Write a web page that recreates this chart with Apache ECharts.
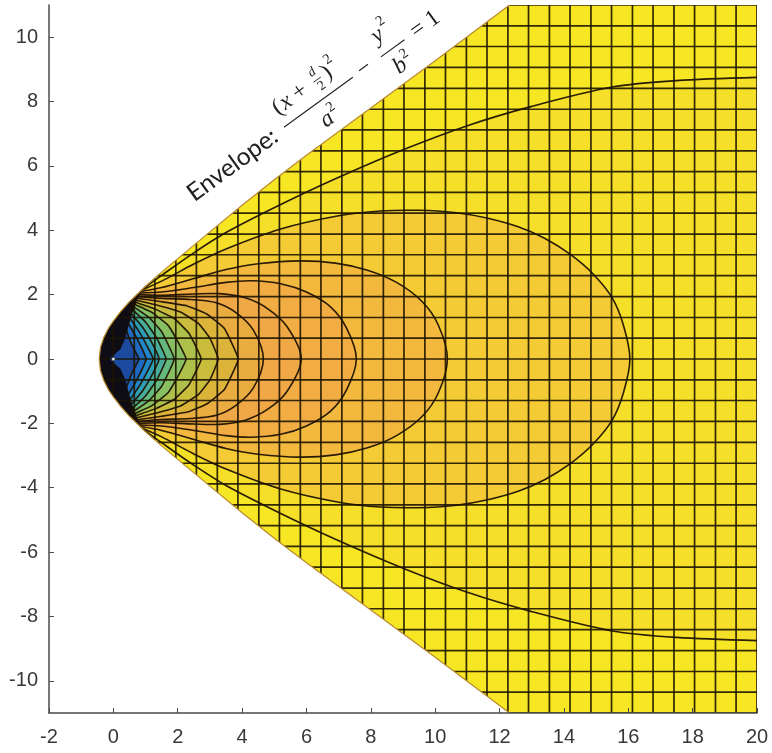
<!DOCTYPE html>
<html><head><meta charset="utf-8">
<script src="https://cdn.jsdelivr.net/npm/echarts@6/dist/echarts.min.js"></script>
<style>html,body{margin:0;padding:0;background:#fff}#c{width:772px;height:753px}</style>
</head><body><div id="c"></div>
<script>
// ---------------- data ----------------
const xTickValues = [-2,0,2,4,6,8,10,12,14,16,18,20];
const yTickValues = [-10,-8,-6,-4,-2,0,2,4,6,8,10];

// upper half of the hyperbolic envelope (mirrored for the lower half)
const envelopeX = [-0.44,-0.4,-0.3,-0.15,0,0.25,0.5,1,1.5,2,3,4,5,6,8,10,12.31];
const envelopeY = [0,0.36,0.66,0.96,1.18,1.5,1.78,2.26,2.7,3.12,3.95,4.78,5.57,6.33,7.8,9.27,11];

// mesh lines of the surface
const meshX = [0,0.65,1.29,1.94,2.58,3.23,3.87,4.52,5.16,5.81,6.45,7.1,7.74,8.39,9.03,9.68,10.32,10.97,11.61,12.26,12.9,13.55,14.19,14.84,15.48,16.13,16.77,17.42,18.06,18.71,19.35,20];
const meshY = [-11,-10.35,-9.71,-9.06,-8.41,-7.76,-7.12,-6.47,-5.82,-5.18,-4.53,-3.88,-3.24,-2.59,-1.94,-1.29,-0.65,0,0.65,1.29,1.94,2.59,3.24,3.88,4.53,5.18,5.82,6.47,7.12,7.76,8.41,9.06,9.71,10.35,11];

// contour lines (upper halves, left end -> crossing of y = 0); mirrored below
const contourA = [[0.95,2.2],[1.5,2.6],[2.5,3.3],[3.5,3.93],[5.2,4.8],[6.9,5.6],[9,6.5],[11,7.25],[13,7.85],[15.5,8.45],[17.5,8.65],[20,8.75]];
const contourB = [[0.9,2.15],[1.5,2.42],[2.5,2.95],[3.5,3.42],[5.2,4.04],[7,4.45],[8.3,4.6],[9.5,4.62],[10.6,4.55],[11.6,4.38],[12.6,4.1],[13.4,3.75],[14.2,3.25],[14.9,2.65],[15.5,1.9],[15.85,1.05],[16.05,0]];
const contourC = [[0.85,2.1],[1.5,2.22],[2.5,2.5],[3.5,2.78],[4.5,2.96],[5.8,3.05],[6.9,2.98],[7.9,2.76],[8.8,2.38],[9.6,1.78],[10.1,1.05],[10.38,0]];
const contourD = [[0.8,2.05],[1.5,2.08],[2.5,2.22],[3.5,2.38],[4.3,2.43],[5.2,2.34],[6,2.08],[6.75,1.62],[7.25,0.95],[7.55,0]];
const contourE = [[0.75,2.0],[1.5,1.98],[2.5,2.02],[3.3,2.03],[4.1,1.9],[4.8,1.56],[5.4,1.0],[5.84,0]];
const contourF = [[0.7,1.95],[1.5,1.88],[2.4,1.85],[3.2,1.75],[3.8,1.45],[4.35,0.9],[4.66,0]];
const contourG = [[0.66,1.9],[1.5,1.78],[2.3,1.65],[2.9,1.4],[3.45,0.95],[3.88,0]];
const contourH = [[0.62,1.85],[1.4,1.66],[2.1,1.45],[2.65,1.1],[3.0,0.65],[3.26,0]];
const contourI = [[0.58,1.8],[1.3,1.55],[1.9,1.25],[2.35,0.8],[2.73,0]];
const contourJ = [[0.55,1.75],[1.2,1.45],[1.7,1.05],[2.0,0.55],[2.26,0]];
const contourK = [[0.52,1.7],[1.1,1.3],[1.5,0.85],[1.89,0]];
const contourL = [[0.5,1.62],[1.0,1.15],[1.35,0.65],[1.64,0]];
const contourM = [[0.48,1.5],[0.9,1.0],[1.2,0.5],[1.42,0]];
const contourN = [[0.46,1.35],[0.8,0.85],[1.05,0.4],[1.24,0]];
const contourO = [[0.44,1.15],[0.7,0.7],[0.9,0.3],[1.02,0]];
const contourP = [[0.4,0.9],[0.55,0.5],[0.7,0.2],[0.8,0]];
const contours = [contourA,contourB,contourC,contourD,contourE,contourF,contourG,contourH,contourI,contourJ,contourK,contourL,contourM,contourN,contourO,contourP];

// colour of the surface inside each contour (parula-like)
const envelopeColor = '#F7E623';
const bandColors = ['#F6DF28','#F4CB35','#F3B83E','#F2AC44','#F0A746','#E9AC41','#DDB43A','#CABC3C','#ACC04A','#87BF62','#63B87E','#45AD9A','#2E9DB6','#2286C8','#1E6AC0','#1B4A9E'];

// dark core at the vertex (inner edge, upper half)
const coreEdge = [[0.95,2.25],[0.75,1.85],[0.6,1.45],[0.48,1.05],[0.36,0.62],[0.22,0.3],[0.02,0.13],[-0.12,0]];
const coreColor = '#0E0D16';
const sourcePoint = [[0,0]];

// ---------------- helpers ----------------
const envUpper = envelopeX.map((x,i)=>[x,envelopeY[i]]);
const mirror = p => [p[0], -p[1]];
function envelopePolygon(){
  return envUpper.concat([[20,11],[20,-11]]).concat(envUpper.slice().reverse().map(mirror));
}
function bandPolygon(c){
  const x0 = c[0][0];
  const upper = envUpper.filter(p=>p[0] < x0).concat(c);
  const lower = upper.slice().reverse().map(mirror);
  const closedOnAxis = c[c.length-1][1] === 0;
  return upper.concat(closedOnAxis ? lower.slice(1) : lower);
}
function maskPolygon(){
  const top = [[-3,12],[12.31,12]].concat(envUpper.slice().reverse());
  const bottom = envUpper.slice(1).map(mirror).concat([[12.31,-12],[-3,-12]]);
  return top.concat(bottom);
}
const fills = [{pts: envelopePolygon(), color: envelopeColor}]
  .concat(contours.map((c,i)=>({pts: bandPolygon(c), color: bandColors[i]})))
  .concat([{pts: bandPolygon(coreEdge), color: coreColor}]);

const chart = echarts.init(document.getElementById('c'));
const axisColor = '#4a4a4a';
const ink = '#222';
const T = (x, y, text, font) => ({type:'text', z:100, x:x, y:y, style:{text:text, font:font, fill:ink, textAlign:'left', align:'left', textVerticalAlign:'middle', verticalAlign:'middle'}});
const L = (x1, x2, y, w) => ({type:'line', z:100, shape:{x1:x1,y1:y,x2:x2,y2:y}, style:{stroke:ink, lineWidth:w}});
const serif = '"Liberation Serif"';
chart.setOption({
  animation: false,
  backgroundColor: '#ffffff',
  grid: {left: 49, right: 15, top: 5, bottom: 40, containLabel: false},
  xAxis: {
    type: 'value', min: -2, max: 20, interval: 2, z: 10,
    axisLine: {show: true, onZero: false, lineStyle: {color: axisColor, width: 1.5}},
    axisTick: {show: true, inside: true, length: 5, lineStyle: {color: axisColor, width: 1}},
    axisLabel: {color: '#383838', fontSize: 20, fontFamily: 'Liberation Sans', margin: 14},
    splitLine: {show: false}
  },
  yAxis: {
    type: 'value', min: -11, max: 11, z: 10,
    axisLine: {show: true, onZero: false, lineStyle: {color: axisColor, width: 1.5}},
    axisTick: {show: true, inside: true, length: 5, customValues: yTickValues, lineStyle: {color: axisColor, width: 1}},
    axisLabel: {color: '#383838', fontSize: 20, fontFamily: 'Liberation Sans', margin: 11, customValues: yTickValues},
    splitLine: {show: false}
  },
  series: [
    { // surface colour
      type: 'custom', z: 1, clip: true, silent: true,
      data: fills.map((f,i)=>[i]),
      renderItem: function(params, api){
        const f = fills[params.dataIndex];
        return {type: 'polygon', shape: {points: f.pts.map(p=>api.coord(p))}, style: {fill: f.color}};
      }
    },
    { // mesh
      type: 'custom', z: 2, clip: true, silent: true,
      data: [[0]],
      renderItem: function(params, api){
        const ch = [];
        const st = {stroke:'rgba(28,20,0,0.9)', lineWidth:1.7};
        meshX.forEach(x=>{
          const a = api.coord([x,-11]), b = api.coord([x,11]);
          ch.push({type:'line', shape:{x1:a[0],y1:a[1],x2:b[0],y2:b[1]}, style:st});
        });
        meshY.forEach(y=>{
          const a = api.coord([-0.5,y]), b = api.coord([20,y]);
          ch.push({type:'line', shape:{x1:a[0],y1:a[1],x2:b[0],y2:b[1]}, style:st});
        });
        return {type:'group', children: ch};
      }
    },
    { // white outside the envelope
      type: 'custom', z: 3, clip: true, silent: true,
      data: [[0]],
      renderItem: function(params, api){
        return {type:'polygon', shape:{points: maskPolygon().map(p=>api.coord(p))}, style:{fill:'#ffffff'}};
      }
    },
    { // contour lines
      type: 'custom', z: 4, clip: true, silent: true,
      data: contours.map((c,i)=>[i]),
      renderItem: function(params, api){
        const c = contours[params.dataIndex];
        const sm = params.dataIndex < 6 ? 0.3 : 0.1;
        const st = {stroke:'rgba(30,18,0,0.95)', lineWidth:1.6, fill:null};
        if (params.dataIndex === 0) {
          return {type:'group', children:[
            {type:'polyline', shape:{points:c.map(p=>api.coord(p)), smooth: sm}, style: st},
            {type:'polyline', shape:{points:c.map(mirror).map(p=>api.coord(p)), smooth: sm}, style: st}
          ]};
        }
        const path = c.map(mirror).concat(c.slice().reverse().slice(1));
        return {type:'polyline', shape:{points:path.map(p=>api.coord(p)), smooth: sm}, style: st};
      }
    },
    { // envelope edge + source point
      type: 'custom', z: 5, clip: true, silent: true,
      data: [[0]],
      renderItem: function(params, api){
        const edge = envUpper.slice().reverse().map(mirror).concat(envUpper.slice(1));
        const s = api.coord(sourcePoint[0]);
        return {type:'group', children:[
          {type:'polyline', shape:{points: edge.map(p=>api.coord(p))}, style:{stroke:'#b98a2c', lineWidth:1.2, fill:null}},
          {type:'circle', shape:{cx:s[0], cy:s[1], r:1.6}, style:{fill:'#d8d8d8'}}
        ]};
      }
    }
  ],
  graphic: [{
    type: 'group', x: 195, y: 203, rotation: 36*Math.PI/180, scaleX: 1.12, scaleY: 1.12, z: 100,
    children: [
      T(0, -8, 'Envelope:', '22px Lato'),
      // first fraction
      T(106, -25, '(', '21px ' + serif),
      T(114, -25, 'x', 'italic 21px ' + serif),
      T(128, -25, '+', '21px ' + serif),
      T(150, -33, 'd', 'italic 12px ' + serif),
      L(149, 157, -25, 0.8),
      T(150, -18, '2', '12px ' + serif),
      T(160, -25, ')', '21px ' + serif),
      T(168, -34, '2', '13px ' + serif),
      L(104, 180, -8, 1),
      T(134, 9, 'a', 'italic 21px ' + serif),
      T(145, 2, '2', '13px ' + serif),
      T(187, -8, '\u2212', '21px ' + serif),
      // second fraction
      T(215, -25, 'y', 'italic 21px ' + serif),
      T(226, -34, '2', '13px ' + serif),
      L(211, 237, -8, 1),
      T(215, 9, 'b', 'italic 21px ' + serif),
      T(226, 2, '2', '13px ' + serif),
      T(246, -8, '= 1', '21px ' + serif)
    ]
  }]
});
</script>
</body></html>
